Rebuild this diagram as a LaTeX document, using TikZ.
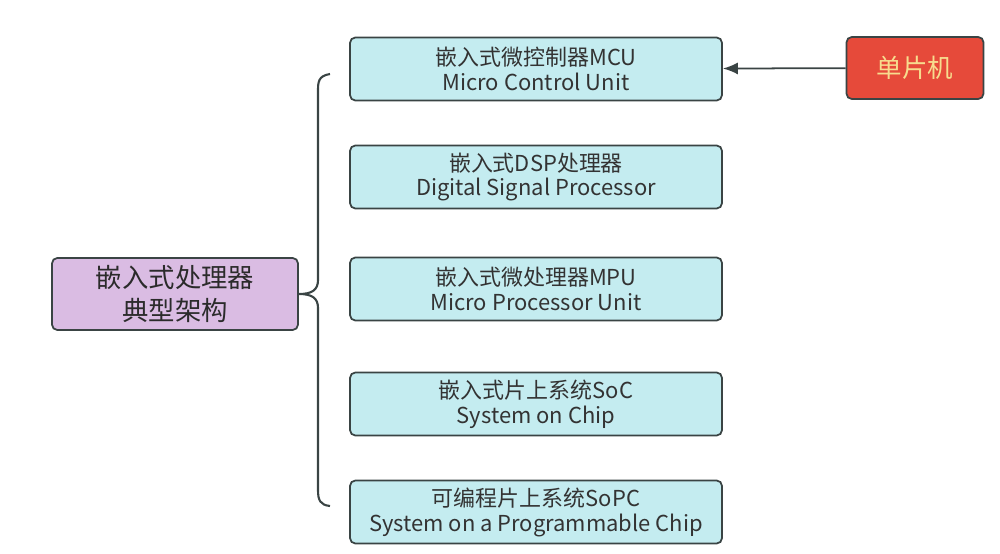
\documentclass[tikz,border=0pt]{standalone}
\usepackage{fontspec}
\setmainfont{Noto Sans CJK SC}
\usepackage{xcolor}
\usetikzlibrary{arrows.meta,positioning,calc}
\definecolor{Ink}{HTML}{3A4444}
\definecolor{Txt}{HTML}{333333}
\definecolor{Cyan}{HTML}{C4ECF0}
\definecolor{Lilac}{HTML}{DABCE3}
\definecolor{Red}{HTML}{E64A3A}
\definecolor{Gold}{HTML}{F7DC8E}

\begin{document}
\begin{tikzpicture}[x=0.02cm, y=-0.02cm,
    kind/.style={draw=Ink, fill=Cyan, line width=1pt, rounded corners=3pt, minimum width=7.44cm, minimum height=1.26cm, align=center, text=Txt, font=\fontsize{12.5}{14.2}\selectfont, inner sep=0pt},
    root/.style={draw=Ink, fill=Lilac, line width=1pt, rounded corners=3pt, minimum width=4.92cm, minimum height=1.44cm, align=center, text=Txt!85!black, font=\fontsize{15}{18.7}\selectfont, inner sep=0pt},
    tag/.style={draw=Ink, fill=Red, line width=1pt, rounded corners=3pt, minimum width=2.74cm, minimum height=1.24cm, text=Gold, font=\fontsize{14.5}{17}\selectfont, inner sep=0pt},
    arr/.style={-{Latex[length=3mm,width=2.4mm]}, line width=1pt, draw=Ink}
  ]
    \useasboundingbox (0,0) rectangle (1000,554);
    \node[root] (core) at (175,294) {嵌入式处理器\\典型架构};
    \node[kind] (mcu) at (536,69) {嵌入式微控制器MCU\\Micro Control Unit};
    \node[kind] (dsp) at (536,177) {嵌入式DSP处理器\\Digital Signal Processor};
    \node[kind] (mpu) at (536,289) {嵌入式微处理器MPU\\Micro Processor Unit};
    \node[kind] (soc) at (536,404) {嵌入式片上系统SoC\\System on Chip};
    \node[kind] (sopc) at (536,512) {可编程片上系统SoPC\\System on a Programmable Chip};
    \node[tag] (scm) at (915,68) {单片机};
    % brace
    \coordinate (btop) at (330,74);
    \coordinate (bbot) at (330,506);
    \draw[Ink, line width=1.2pt] (btop) .. controls (318,76) and (318,82) .. (318,92)
      -- (318,280) .. controls (318,290) and (312,294) .. (core.east)
      .. controls (312,294) and (318,298) .. (318,308)
      -- (318,490) .. controls (318,500) and (320,505) .. (bbot);
    \draw[arr] (scm) -- (mcu);
  \end{tikzpicture}
\end{document}
